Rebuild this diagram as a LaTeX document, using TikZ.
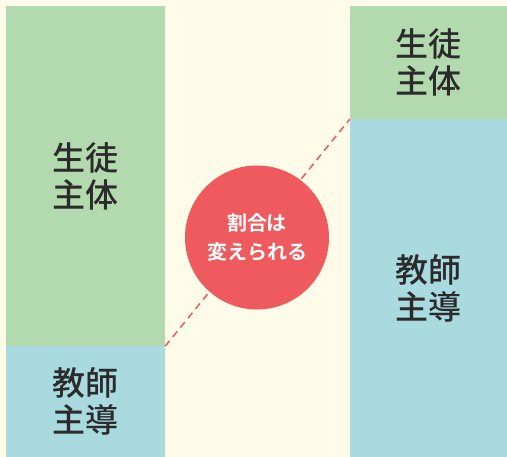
\documentclass[tikz,border=0pt]{standalone}
\usepackage{fontspec}
\newfontfamily\cjk{Noto Sans CJK JP}[BoldFont={Noto Sans CJK JP Bold}]
\newfontfamily\cjkmed{Noto Sans CJK JP Medium}
\usepackage{tikz}
\definecolor{creambg}{HTML}{FEFCE9}
\definecolor{pupilgreen}{HTML}{B3DAAE}
\definecolor{teachblue}{HTML}{A8DADF}
\definecolor{ratiored}{HTML}{EE5A5D}
\definecolor{labelink}{HTML}{2B2B2B}
\tikzset{
  share/.style={inner sep=0pt, align=center, text=labelink, font=\cjkmed\fontsize{33}{37}\selectfont},
  ratio/.style={circle, fill=ratiored, inner sep=0pt, minimum size=144pt, align=center, text=white, font=\cjk\bfseries\fontsize{20}{29}\selectfont}
}

\begin{document}
\begin{tikzpicture}[x=1pt, y=-1pt]
\fill[creambg] (0, 0) rectangle (507, 457);
\useasboundingbox (0, 0) rectangle (507, 457);
\node[share, fill=pupilgreen, minimum width=159pt, minimum height=340pt] (left_pupil) at (85.5, 176) {生徒\\主体};
\node[share, fill=teachblue, minimum width=159pt, minimum height=111pt] (left_teacher) at (85.5, 401.5) {教師\\主導};
\node[share, fill=pupilgreen, minimum width=157pt, minimum height=113pt] (right_pupil) at (428.5, 62.5) {生徒\\主体};
\node[share, fill=teachblue, minimum width=157pt, minimum height=338pt] (right_teacher) at (428.5, 288) {教師\\主導};
\draw[ratiored, line width=1.5pt, dash pattern=on 7pt off 5pt] (left_pupil.south east) -- (right_pupil.south west);
\node[ratio] (change) at (257, 237.5) {割合は\\変えられる};
\end{tikzpicture}
\end{document}
